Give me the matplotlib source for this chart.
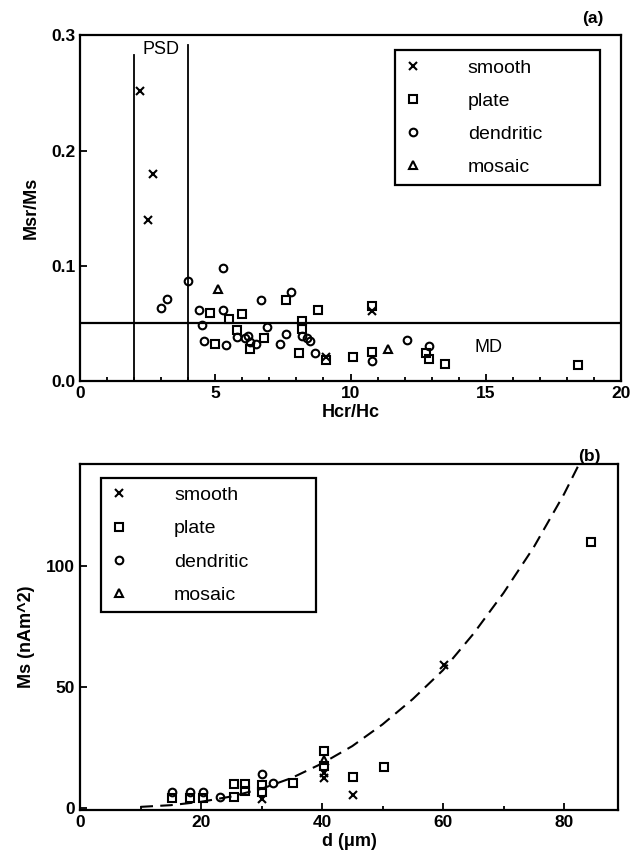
import matplotlib.pyplot as plt
from matplotlib.ticker import MultipleLocator, FormatStrFormatter

plt.rcParams['font.family'] = ['Liberation Sans', 'DejaVu Sans']

# ==============================
# Data - panel (a): Msr/Ms vs Hcr/Hc
# ==============================

smooth_hcr = [2.2, 2.7, 2.5, 9.1, 10.8]
smooth_msr = [0.252, 0.180, 0.140, 0.021, 0.061]

plate_hcr = [4.8, 5.5, 6.0, 7.6, 8.8, 5.8, 8.2, 8.2, 6.3, 6.8, 5.0, 8.1, 9.1,
             10.8, 10.1, 10.8, 12.8, 12.9, 13.5, 18.4]
plate_msr = [0.059, 0.054, 0.058, 0.070, 0.062, 0.044, 0.052, 0.045, 0.028,
             0.037, 0.032, 0.024, 0.018, 0.065, 0.021, 0.025, 0.024, 0.019,
             0.015, 0.014]

dendritic_hcr = [5.3, 4.0, 3.2, 3.0, 7.8, 6.7, 4.4, 5.3, 4.5, 6.9, 7.6, 8.2,
                 8.4, 8.5, 5.8, 6.2, 6.1, 6.3, 6.5, 7.4, 4.6, 5.4, 8.7, 10.8,
                 12.1, 12.9]
dendritic_msr = [0.098, 0.087, 0.071, 0.063, 0.077, 0.070, 0.062, 0.062, 0.049,
                 0.047, 0.041, 0.039, 0.037, 0.035, 0.038, 0.039, 0.037, 0.034,
                 0.032, 0.032, 0.035, 0.031, 0.024, 0.017, 0.036, 0.030]

mosaic_hcr = [5.1, 11.4]
mosaic_msr = [0.080, 0.028]

psd_bounds = [2, 4]
md_level = 0.05

# ==============================
# Data - panel (b): Ms vs d
# ==============================

smooth_d = [30.1, 40.3, 40.3, 45.2, 60.2]
smooth_ms = [3.7, 14.5, 12.4, 5.2, 59.3]

plate_d = [15.2, 18.2, 20.4, 25.4, 27.3, 25.4, 27.3, 30.1, 30.1, 35.2, 40.3,
           40.3, 45.2, 50.2, 84.5]
plate_ms = [3.8, 3.8, 3.8, 9.7, 9.7, 4.2, 6.7, 9.3, 6.3, 10.1, 23.4, 17.3,
            12.8, 16.9, 110]

dendritic_d = [15.2, 18.2, 20.4, 23.2, 30.1, 31.9]
dendritic_ms = [6.3, 6.3, 6.3, 4.2, 14.1, 10.1]

mosaic_d = [40.3]
mosaic_ms = [19.8]

# dashed trend line
curve_d = [10, 15, 20, 25, 30, 35, 40, 45, 50, 55, 60, 65, 70, 75, 80, 84]
curve_ms = [0.3, 1.0, 2.4, 4.6, 7.8, 12.3, 18.3, 25.5, 34.5, 45, 57, 72, 89,
            108, 130, 150]

labels = ["smooth", "plate", "dendritic", "mosaic"]
markers = ["x", "s", "o", "^"]

fig = plt.figure(figsize=(6.35, 8.64), dpi=100)
ax1 = fig.add_axes([0.126, 0.559, 0.852, 0.400])
ax2 = fig.add_axes([0.126, 0.0625, 0.848, 0.4005])

mk = dict(linestyle="none", color="black", markerfacecolor="none",
          markersize=5.5, markeredgewidth=1.5)


def style_axes(ax):
    for s in ax.spines.values():
        s.set_linewidth(1.6)
    ax.tick_params(which="both", direction="in", top=False, right=False,
                   labelsize=12.5, width=1.3)
    ax.tick_params(which="major", length=5)
    ax.tick_params(which="minor", length=3)
    for t in ax.get_xticklabels() + ax.get_yticklabels():
        t.set_fontweight("bold")


def add_legend(ax, x0, top, width):
    leg = ax.legend(loc="upper left", bbox_to_anchor=(x0, 0.0, width, top),
                    mode="expand", fontsize=14, frameon=True, fancybox=False,
                    edgecolor="black", framealpha=1, handlelength=1.0,
                    handletextpad=2.3, labelspacing=0.8, borderpad=0.45,
                    borderaxespad=0)
    leg.get_frame().set_linewidth(1.6)
    return leg


# ==============================
# Panel (a)
# ==============================

series_a = [(smooth_hcr, smooth_msr), (plate_hcr, plate_msr),
            (dendritic_hcr, dendritic_msr), (mosaic_hcr, mosaic_msr)]
for (x, y), lab, m in zip(series_a, labels, markers):
    ax1.plot(x, y, marker=m, label=lab, **mk)

ax1.plot([psd_bounds[0], psd_bounds[0]], [0, 0.283], color="black", lw=1.3)
ax1.plot([psd_bounds[1], psd_bounds[1]], [0, 0.292], color="black", lw=1.3)
ax1.axhline(md_level, color="black", lw=1.6)
ax1.text(3.0, 0.288, "PSD", ha="center", va="center", fontsize=13)
ax1.text(15.1, 0.029, "MD", ha="center", va="center", fontsize=13)

ax1.set_xlim(0, 20)
ax1.set_ylim(0, 0.3)
ax1.xaxis.set_major_locator(MultipleLocator(5))
ax1.xaxis.set_minor_locator(MultipleLocator(1))
ax1.yaxis.set_major_locator(MultipleLocator(0.1))
ax1.yaxis.set_major_formatter(FormatStrFormatter("%.1f"))
ax1.set_xlabel("Hcr/Hc", fontsize=13, fontweight="bold", labelpad=2)
ax1.set_ylabel("Msr/Ms", fontsize=13, fontweight="bold", labelpad=8)
style_axes(ax1)

add_legend(ax1, 0.582, 0.957, 0.38)
ax1.text(0.967, 1.035, "(a)", transform=ax1.transAxes, ha="right",
         fontsize=12.5, fontweight="bold")

# ==============================
# Panel (b)
# ==============================

series_b = [(smooth_d, smooth_ms), (plate_d, plate_ms),
            (dendritic_d, dendritic_ms), (mosaic_d, mosaic_ms)]
for (x, y), lab, m in zip(series_b, labels, markers):
    ax2.plot(x, y, marker=m, label=lab, **mk)

ax2.plot(curve_d, curve_ms, color="black", lw=1.5, linestyle=(0, (6, 3.5)))

ax2.set_xlim(0, 89)
ax2.set_ylim(-1, 142.5)
ax2.xaxis.set_major_locator(MultipleLocator(20))
ax2.xaxis.set_minor_locator(MultipleLocator(10))
ax2.yaxis.set_major_locator(MultipleLocator(50))
ax2.set_xlabel("d (\u03bcm)", fontsize=13, fontweight="bold", labelpad=2)
ax2.set_ylabel("Ms (nAm^2)", fontsize=13, fontweight="bold", labelpad=8)
style_axes(ax2)

add_legend(ax2, 0.039, 0.96, 0.40)
ax2.text(0.967, 1.01, "(b)", transform=ax2.transAxes, ha="right",
         fontsize=12.5, fontweight="bold")

fig.savefig("out.png", dpi=100)
